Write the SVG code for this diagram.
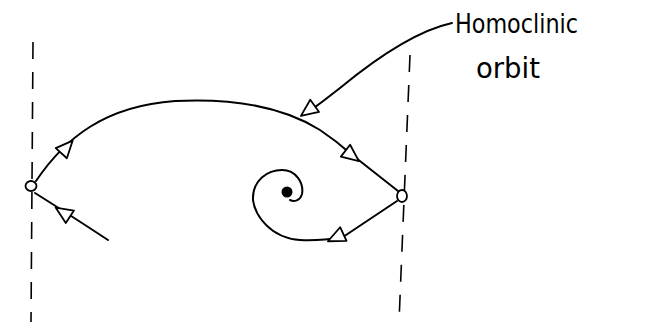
<svg xmlns="http://www.w3.org/2000/svg" width="666" height="326" viewBox="0 0 666 326">
<style>
.curve{fill:none;stroke:#000;stroke-width:2;stroke-linecap:round;stroke-linejoin:round}
.dash{fill:none;stroke:#000;stroke-width:1.6;stroke-dasharray:17 13}
.tri{fill:#fff;stroke:#000;stroke-width:1.8;stroke-linejoin:round}
.node{fill:#fff;stroke:#000;stroke-width:1.8}
.lbl{font-family:"DejaVu Sans","Liberation Sans",sans-serif;font-weight:normal;fill:#000}
</style>
<defs>
<path id="tri" d="M10,0 L-7,-7.5 L-7,7.5 Z"/>
</defs>
<rect width="666" height="326" fill="#fff"/>
<g id="separatrices">
<line class="dash" x1="33" y1="42" x2="31" y2="322"/>
<line class="dash" x1="410" y1="55" x2="399" y2="322"/>
</g>
<g id="connectors">
<path class="curve" d="M36,181 C65,138 105,106 175,101 C235,98 285,108 320,130 C332,138 342,146 351,154 L398,191"/>
<path class="curve" d="M35,193 Q70,215 108,240"/>
<path class="curve" d="M397,201 L343,237 Q320,241 300,240 C270,238 255,215 253,200 C252,180 268,170 282,170 C296,170 304,183 302,194 C300,201 294,202 290,200"/>
<path class="curve" d="M452,23 C420,30 380,55 340,88 C325,100 314,108 304,115"/>
<use href="#tri" class="tri" transform="translate(66,148) rotate(-48)"/>
<use href="#tri" class="tri" transform="translate(64,213) rotate(-147)"/>
<use href="#tri" class="tri" transform="translate(351,155) rotate(38)"/>
<use href="#tri" class="tri" transform="translate(337,237) rotate(155)"/>
<use href="#tri" class="tri" transform="translate(309,110) rotate(144)"/>
</g>
<g id="saddle-left"><ellipse class="node" cx="31" cy="186" rx="5.5" ry="5"/></g>
<g id="saddle-right"><ellipse class="node" cx="402" cy="196" rx="5" ry="6"/></g>
<g id="focus"><circle cx="287" cy="192" r="5.5" fill="#000"/></g>
<g id="label">
<text class="lbl" x="455" y="33" font-size="27" textLength="123" lengthAdjust="spacingAndGlyphs">Homoclinic</text>
<text class="lbl" x="476" y="78" font-size="28" textLength="64" lengthAdjust="spacingAndGlyphs">orbit</text>
</g>
</svg>
